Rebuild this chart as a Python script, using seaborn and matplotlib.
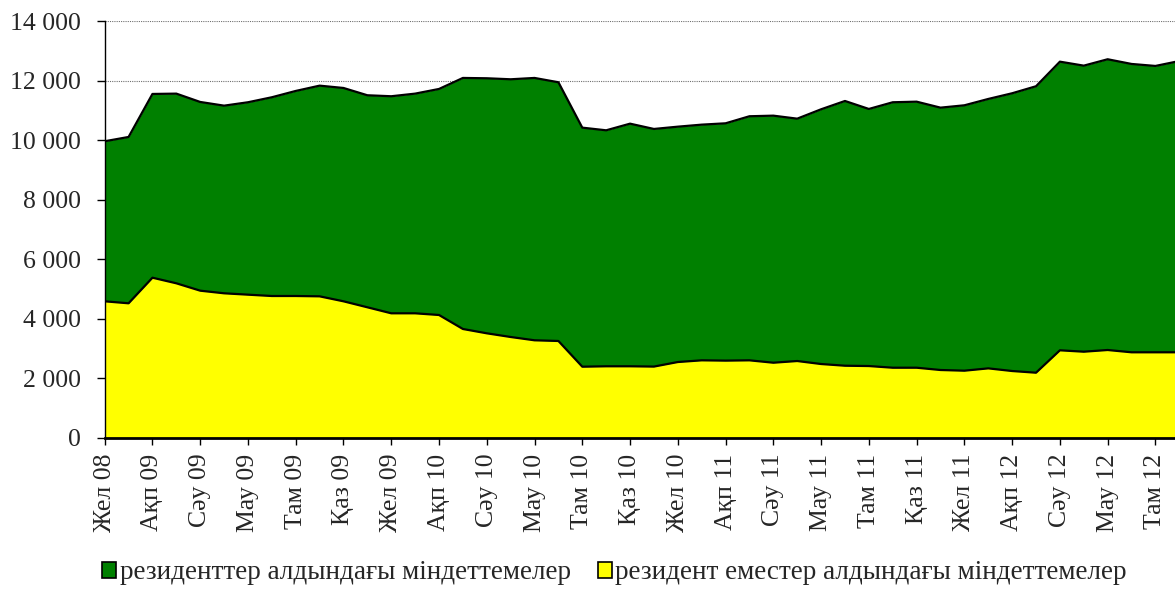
import numpy as np
import pandas as pd
import matplotlib.pyplot as plt
import seaborn as sns
from matplotlib.patches import Patch

# monthly, Dec 2008 .. Sep 2012 (last point is cut off by the frame)
tick_labels = ["Жел 08", "Ақп 09", "Сәу 09", "Мау 09", "Там 09", "Қаз 09",
               "Жел 09", "Ақп 10", "Сәу 10", "Мау 10", "Там 10", "Қаз 10",
               "Жел 10", "Ақп 11", "Сәу 11", "Мау 11", "Там 11", "Қаз 11",
               "Жел 11", "Ақп 12", "Сәу 12", "Мау 12", "Там 12"]

non_residents = [4583, 4516, 5376, 5188, 4940, 4852, 4806, 4761, 4761, 4750,
                 4583, 4382, 4180, 4180, 4123, 3653, 3508, 3384, 3273, 3250,
                 2386, 2400, 2400, 2390, 2543, 2600, 2590, 2600, 2520, 2577,
                 2476, 2419, 2408, 2352, 2352, 2275, 2252, 2330, 2241, 2184,
                 2937, 2890, 2947, 2870, 2870, 2870]
residents = [5377, 5588, 6173, 6372, 6340, 6304, 6464, 6677, 6889, 7078,
             7167, 7123, 7292, 7380, 7594, 8434, 8568, 8658, 8814, 8692,
             8031, 7928, 8151, 7983, 7907, 7918, 7973, 8200, 8300, 8142,
             8558, 8894, 8637, 8918, 8938, 8814, 8916, 9051, 9331, 9624,
             9697, 9610, 9768, 9687, 9620, 9785]

label_res = "резиденттер алдындағы міндеттемелер"
label_nonres = "резидент еместер алдындағы міндеттемелер"

df = pd.DataFrame({"m": np.arange(len(residents)),
                   "nonres": non_residents,
                   "res": residents})
df["total"] = df["nonres"] + df["res"]

sns.set_theme(style="white")
plt.rcParams["font.family"] = ["Liberation Serif", "DejaVu Serif"]
plt.rcParams["font.size"] = 18.5

fig = plt.figure(figsize=(11.75, 5.9), dpi=100)
ax = fig.add_axes([0.0891, 0.2581, 0.9109, 0.7063])

ax.fill_between(df["m"], 0, df["nonres"], color="#FFFF00", zorder=2, lw=0)
ax.fill_between(df["m"], df["nonres"], df["total"], color="#008000", zorder=2, lw=0)
sns.lineplot(data=df, x="m", y="nonres", color="black", lw=1.6, ax=ax, zorder=3)
sns.lineplot(data=df, x="m", y="total", color="black", lw=1.6, ax=ax, zorder=3)

ax.set_xlim(0, 44.82)
ax.set_ylim(0, 14000)
ax.set_yticks(np.arange(0, 14001, 2000))
ax.set_yticklabels([f"{v:,}".replace(",", " ") for v in range(0, 14001, 2000)])
ax.set_xticks(np.arange(0, 2 * len(tick_labels), 2))
ax.set_xticklabels(tick_labels, rotation=90)
ax.set_xlabel("")
ax.set_ylabel("")

ax.yaxis.grid(True, linestyle=(0, (1, 1)), color="#707070", lw=0.8)
ax.set_axisbelow(True)
for s in ["top", "right"]:
    ax.spines[s].set_visible(False)
ax.spines["left"].set_color("black")
ax.spines["left"].set_linewidth(1.0)
ax.spines["bottom"].set_color("black")
ax.spines["bottom"].set_linewidth(2.0)
ax.spines["bottom"].set_zorder(4)
ax.tick_params(axis="y", direction="out", length=5.8, width=1, color="black",
               left=True, labelsize=18.5, pad=11.5)
ax.tick_params(axis="x", direction="out", length=5.0, width=1, color="black",
               bottom=True, labelsize=18.5, pad=6.5)

handles = [Patch(facecolor="#008000", edgecolor="black", lw=1.2),
           Patch(facecolor="#FFFF00", edgecolor="black", lw=1.2)]
fig.legend(handles, [label_res, label_nonres], loc="center",
           bbox_to_anchor=(0.523, 0.029), ncol=2, frameon=False,
           handlelength=0.52, handleheight=0.52, handletextpad=0.12,
           columnspacing=1.0, fontsize=19.5, borderpad=0.1)

fig.savefig("out.png", dpi=100)
